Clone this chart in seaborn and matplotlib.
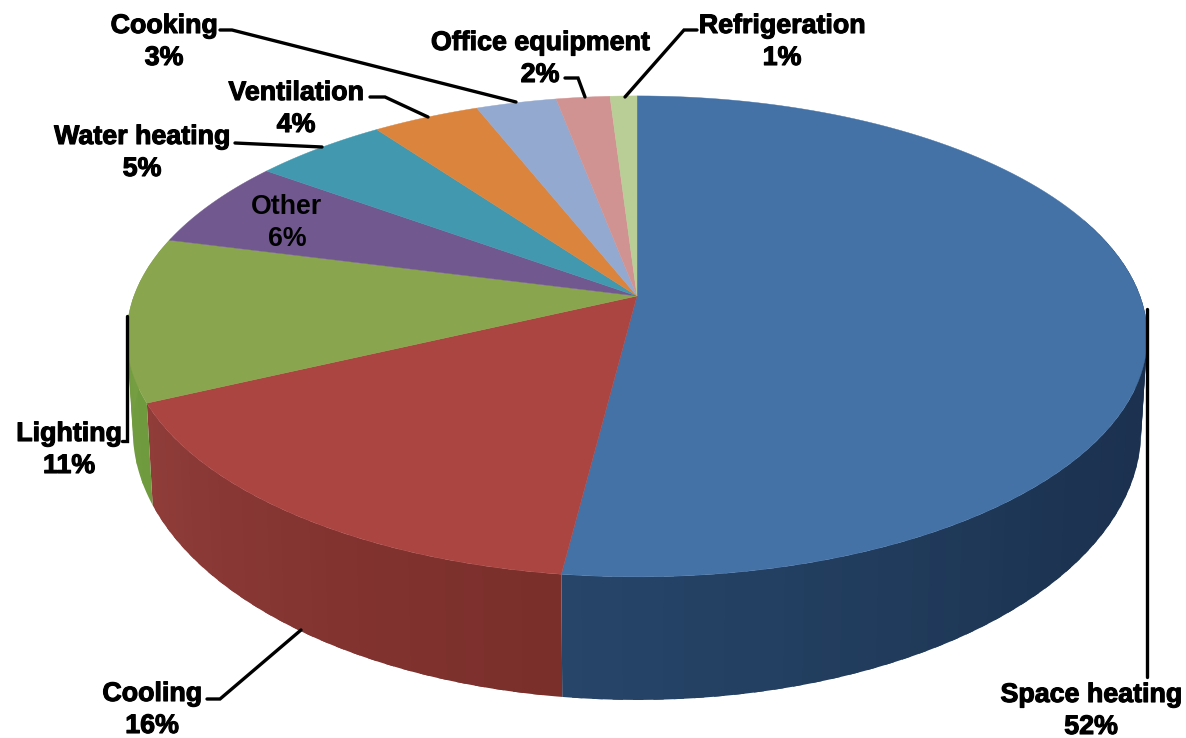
import numpy as np
import matplotlib
matplotlib.use("Agg")
import matplotlib.pyplot as plt
import matplotlib.patheffects as pe
import seaborn as sns

categories = ["Space heating", "Cooling", "Lighting", "Other", "Water heating",
              "Ventilation", "Cooking", "Office equipment", "Refrigeration"]
shares = [52, 16, 11, 6, 5, 4, 3, 2, 1]

top_colors = ["#4472A6", "#AA4542", "#89A54E", "#71588F", "#4198AF",
              "#DB843D", "#93A9CF", "#D19392", "#B9CD96"]

sns.set_theme(style="white")
plt.rcParams['font.family'] = ['Liberation Sans', 'DejaVu Sans']

fig, ax = plt.subplots(figsize=(11.86, 7.38), dpi=100)
fig.subplots_adjust(0, 0, 1, 1)
ax.set_xlim(0, 1186)
ax.set_ylim(738, 0)
ax.axis("off")


# pie lies on a tilted plane, so use a perspective projection of the unit circle
def project(deg, cy, a, b):
    t = np.radians(deg)
    u = np.sin(t)
    w = -np.cos(t)
    d = 1 - 0.168 * w
    return 637 + a * u / d, cy + b * w / d


def top_edge(deg):
    return project(deg, 296, 503, 233.7)


def bottom_edge(deg):
    return project(deg, 385, 497, 262)


def side(start, end, colors):
    cuts = np.linspace(start, end, len(colors) + 1)
    for i, c in enumerate(colors):
        # each strip runs a bit under the next one so no seams show
        stop = cuts[i + 1]
        if i < len(colors) - 1:
            stop = stop + 1
        deg = np.linspace(cuts[i], stop, 12)
        x1, y1 = top_edge(deg)
        x2, y2 = bottom_edge(deg)
        ax.fill(np.r_[x1, x2[::-1]], np.r_[y1, y2[::-1]], color=c, lw=0, zorder=1)


stops = np.cumsum([0] + shares) * 3.6

# visible outer walls, blue then red then green
side(70, stops[1], sns.blend_palette(["#192d4b", "#1c3351", "#264569"], 60))
side(stops[1], stops[2], sns.blend_palette(["#7a2f2b", "#843431", "#903d3a"], 30))
side(stops[2], 285, sns.blend_palette(["#6f9a3e", "#7aa045"], 10))

# top face
for i, c in enumerate(top_colors):
    deg = np.linspace(stops[i], stops[i + 1], 120)
    x, y = top_edge(deg)
    ax.fill(np.r_[637, x], np.r_[296, y], color=c, lw=0.3, zorder=2)

# leader lines
leaders = [
    ([1147, 1147], [309, 677]),
    ([207, 220, 301], [699, 699, 630]),
    ([122, 127, 127], [441, 441, 316]),
    ([235, 322], [143, 147]),
    ([370, 385, 428], [97, 97, 117]),
    ([220, 232, 516], [30, 30, 102]),
    ([565, 578, 585], [78, 78, 97]),
    ([697, 684, 625], [30, 30, 97]),
]
for lx, ly in leaders:
    ax.plot(lx, ly, color="black", lw=2.4, solid_joinstyle="miter", zorder=3)

# labels, one centre per category
label_x = [1091, 152, 69, 287, 142, 296, 164, 540, 782]
label_y = [711, 710, 450, 223, 153, 109, 42, 59, 42]
for name, pct, lx, ly in zip(categories, shares, label_x, label_y):
    t = ax.text(lx, ly, f"{name}\n{pct}%", ha="center", va="center", color="black",
                fontsize=19.3, fontweight="bold", linespacing=1.3, zorder=4)
    if name != "Other":
        t.set_path_effects([pe.withStroke(linewidth=0.8, foreground="black")])

fig.savefig("out.png", dpi=100)
